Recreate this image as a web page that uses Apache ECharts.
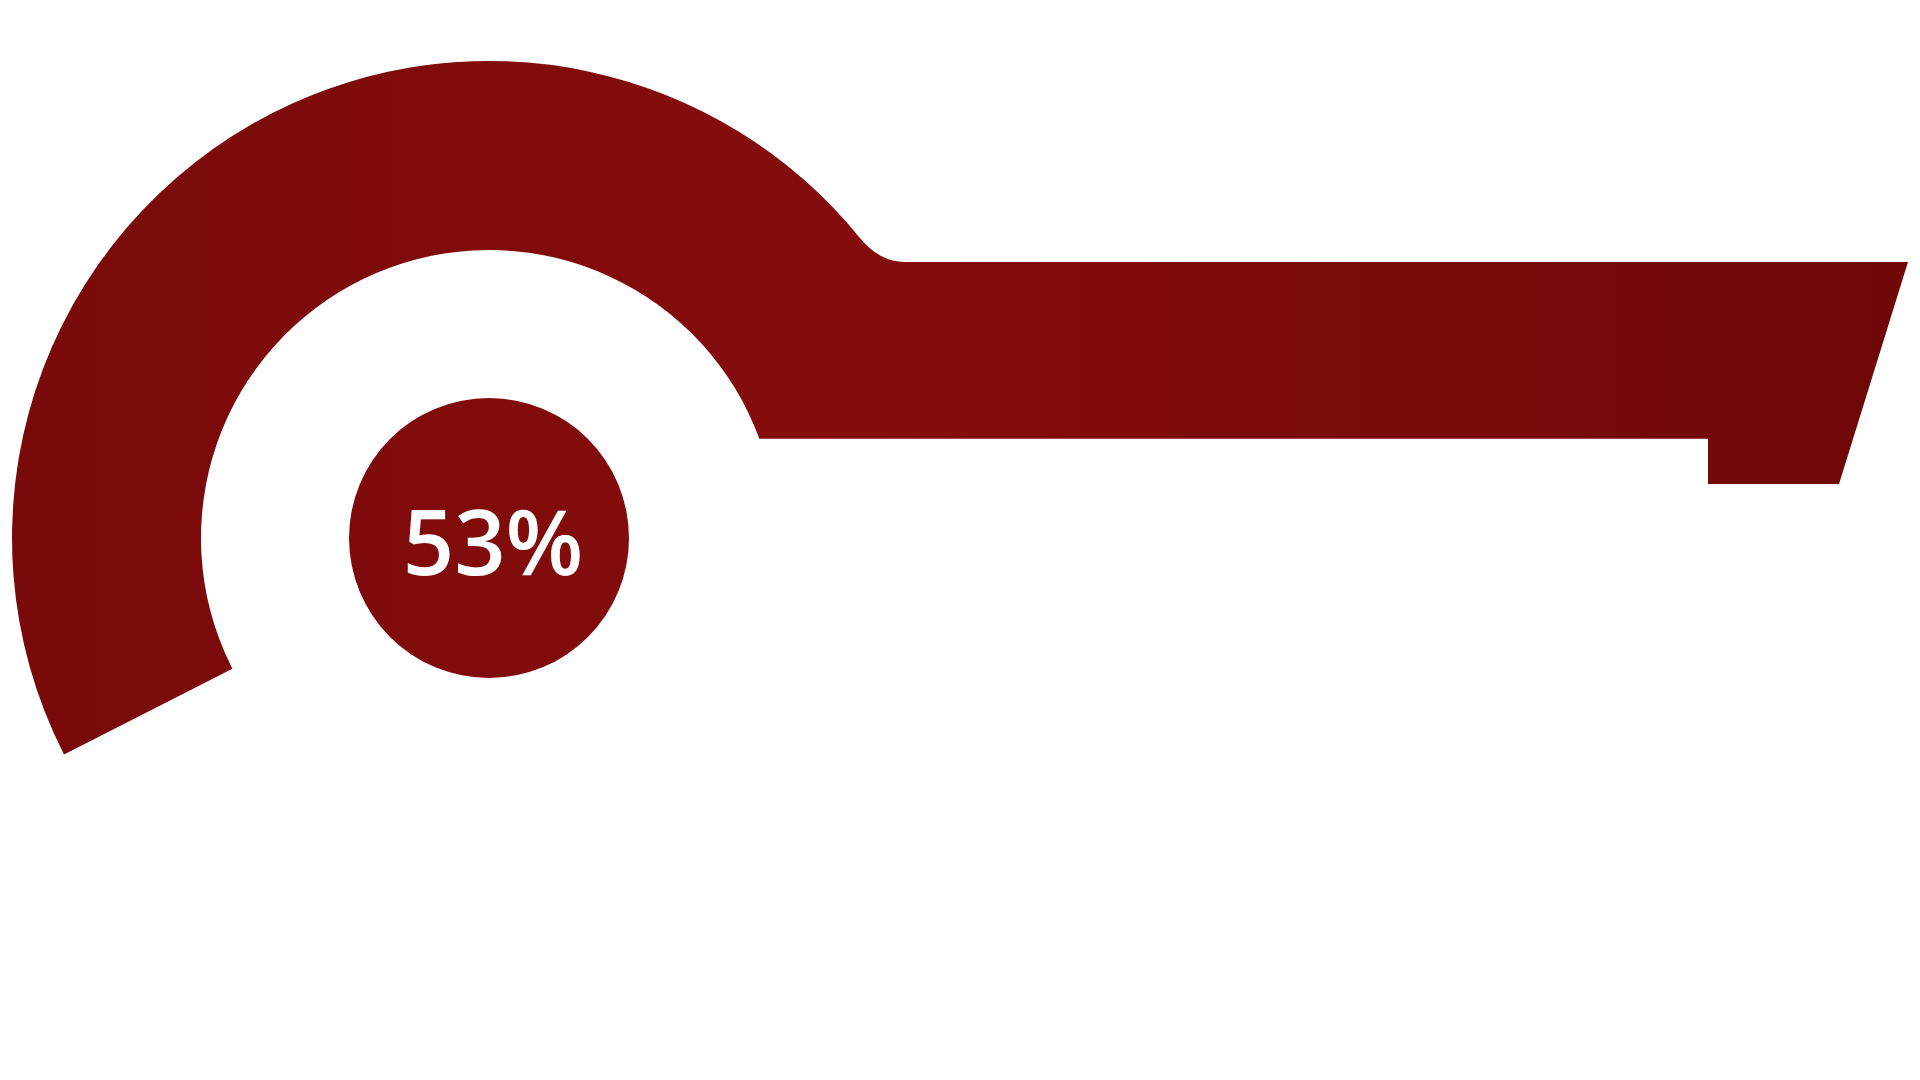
<!DOCTYPE html>
<html>
<head>
<meta charset="utf-8">
<script src="https://cdn.jsdelivr.net/npm/echarts@6/dist/echarts.min.js"></script>
<style>
html,body{margin:0;padding:0;background:#fff;}
#chart{width:1920px;height:1080px;}
</style>
</head>
<body>
<div id="chart"></div>
<script>
// ---- data ----
const categories = ['Progress'];
const percentValues = [53];

// ---- layout (pixels) ----
const CX = 489, CY = 538;
const R_OUT = 477, R_IN = 288, R_DOT = 140;
const START_DEG = 207;        // arc start (math degrees, ccw from +x)
const OUT_END_DEG = 39;       // where the outer edge starts blending into the band
const BAND_TOP = 262, BAND_BOTTOM = 438.7;
const BAND_RIGHT_TOP = 1908, BAND_RIGHT_BOTTOM = 1839;
const TAB_LEFT = 1708, TAB_BOTTOM = 484;
const FILLET = 26;

function pt(r, deg) {
  const a = deg * Math.PI / 180;
  return [CX + r * Math.cos(a), CY - r * Math.sin(a)];
}

function buildPath() {
  const p1 = pt(R_OUT, START_DEG);
  const p2 = pt(R_OUT, OUT_END_DEG);
  const a = OUT_END_DEG * Math.PI / 180;
  const t = (BAND_TOP - p2[1]) / Math.cos(a);
  const ctrlX = p2[0] + t * Math.sin(a);
  const dyIn = CY - BAND_BOTTOM;
  const xInner = CX + Math.sqrt(R_IN * R_IN - dyIn * dyIn);
  const p3 = pt(R_IN, START_DEG);
  return [
    'M', p1[0], p1[1],
    'A', R_OUT, R_OUT, 0, 0, 1, p2[0], p2[1],
    'Q', ctrlX, BAND_TOP, ctrlX + FILLET, BAND_TOP,
    'L', BAND_RIGHT_TOP, BAND_TOP,
    'L', BAND_RIGHT_BOTTOM, TAB_BOTTOM,
    'L', TAB_LEFT, TAB_BOTTOM,
    'L', TAB_LEFT, BAND_BOTTOM,
    'L', xInner, BAND_BOTTOM,
    'A', R_IN, R_IN, 0, 1, 0, p3[0], p3[1],
    'Z'
  ].join(' ');
}

const fillGrad = new echarts.graphic.LinearGradient(0, 0, 1920, 0, [
  { offset: 0, color: '#790a0a' },
  { offset: 0.3, color: '#820c0c' },
  { offset: 0.45, color: '#840c0c' },
  { offset: 1, color: '#700808' }
], true);

const chart = echarts.init(document.getElementById('chart'), null, { renderer: 'canvas' });
chart.setOption({
  backgroundColor: '#ffffff',
  animation: false,
  series: [
    {
      type: 'custom',
      coordinateSystem: 'none',
      silent: true,
      data: percentValues.map((v, i) => ({ name: categories[i], value: v })),
      renderItem: function () {
        return {
          type: 'path',
          shape: { pathData: buildPath() },
          style: { fill: fillGrad }
        };
      }
    },
    {
      type: 'pie',
      center: [CX, CY],
      radius: [0, R_DOT],
      silent: true,
      startAngle: 90,
      data: percentValues.map((v, i) => ({ name: categories[i], value: v })),
      itemStyle: { color: fillGrad },
      label: {
        show: true,
        position: 'center',
        formatter: function (p) { return p.value + '%'; },
        color: '#ffffff',
        fontFamily: 'Open Sans',
        fontWeight: 600,
        fontSize: 90,
        offset: [4, 11]
      },
      labelLine: { show: false }
    }
  ]
});
</script>
</body>
</html>
